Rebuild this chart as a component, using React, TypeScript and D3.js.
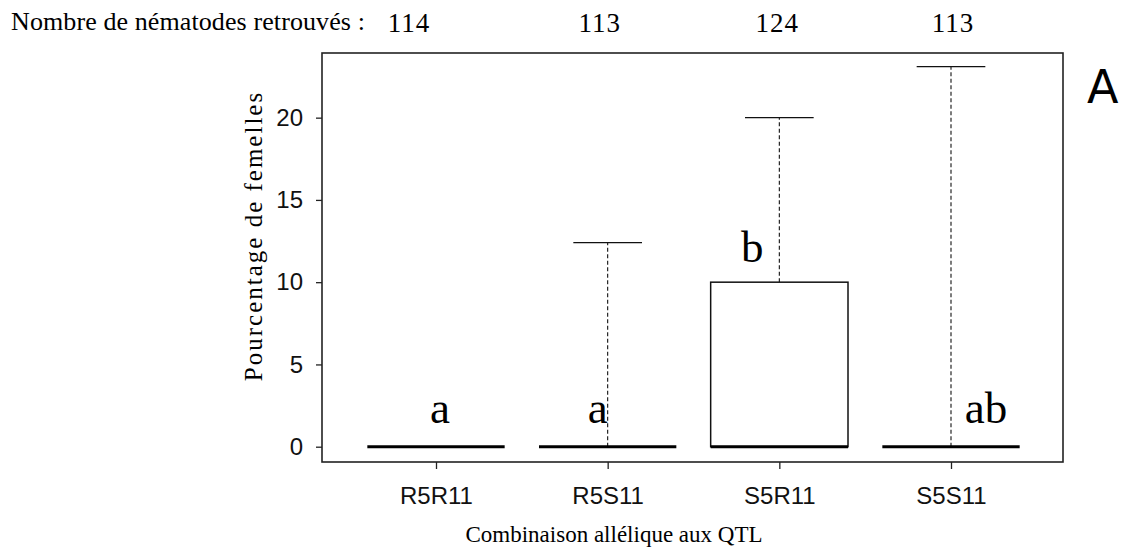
import * as d3 from "d3";
import { useEffect, useRef } from "react";

// allele combinations at the two QTL
const categories = ["R5R11", "R5S11", "S5R11", "S5S11"];
// box stats (% females)
const q1 = [0, 0, 0, 0];
const medians = [0, 0, 0, 0];
const q3 = [0, 0, 10, 0];
const whiskerMax = [0, 12.4, 20, 23.1];
// nematodes recovered per group
const counts = [114, 113, 124, 113];
// significance letters
const letters = ["a", "a", "b", "ab"];
const yTicks = [0, 5, 10, 15, 20];

const W = 1128;
const H = 557;
const frame = { left: 322, top: 53, right: 1063, bottom: 462 };

// hand placement of annotation texts (px offset from group centre, value for letters)
const countOffsets = [-27, -8, -2, 2];
const letterOffsets = [4, -10, -27, 35];
const letterLevels = [1.45, 1.45, 11.2, 1.45];

const serif = "'Liberation Serif', 'Times New Roman', serif";
const sans = "'Liberation Sans', Arial, sans-serif";

const App = () => {
  const ref = useRef<SVGSVGElement>(null);

  useEffect(() => {
    const svg = d3.select(ref.current);
    svg.selectAll("*").remove();
    svg.attr("width", W).attr("height", H);

    const x = d3.scalePoint<string>().domain(categories).range([436, 951]);
    const y = d3.scaleLinear().domain([-0.93, 23.93]).range([frame.bottom, frame.top]);
    const boxW = x.step() * 0.8;
    const capW = boxW / 2;

    // frame
    svg
      .append("rect")
      .attr("x", frame.left)
      .attr("y", frame.top)
      .attr("width", frame.right - frame.left)
      .attr("height", frame.bottom - frame.top)
      .attr("fill", "none")
      .attr("stroke", "#222")
      .attr("stroke-width", 1.6);

    // y axis
    const yAxis = svg
      .append("g")
      .attr("transform", `translate(${frame.left},0)`)
      .call(d3.axisLeft(y).tickValues(yTicks).tickSize(6).tickPadding(13));
    yAxis.select(".domain").remove();
    yAxis.selectAll("line").attr("stroke", "#222").attr("stroke-width", 1.3);
    yAxis
      .selectAll("text")
      .attr("font-family", sans)
      .attr("font-size", 24)
      .attr("fill", "#111");

    // x axis
    const xAxis = svg
      .append("g")
      .attr("transform", `translate(0,${frame.bottom})`)
      .call(d3.axisBottom(x).tickSize(7).tickPadding(18));
    xAxis.select(".domain").remove();
    xAxis.selectAll("line").attr("stroke", "#222").attr("stroke-width", 1.3);
    xAxis
      .selectAll("text")
      .attr("font-family", sans)
      .attr("font-size", 24)
      .attr("fill", "#111");

    const groups = categories.map((c, i) => ({
      c,
      q1: q1[i],
      med: medians[i],
      q3: q3[i],
      hi: whiskerMax[i],
    }));

    const g = svg.append("g");

    // whiskers
    groups
      .filter((d) => d.hi > d.q3)
      .forEach((d) => {
        const cx = x(d.c)!;
        g.append("line")
          .attr("x1", cx)
          .attr("x2", cx)
          .attr("y1", y(d.q3))
          .attr("y2", y(d.hi))
          .attr("stroke", "#111")
          .attr("stroke-width", 1.1)
          .attr("stroke-dasharray", "4,2.5");
        g.append("line")
          .attr("x1", cx - capW / 2)
          .attr("x2", cx + capW / 2)
          .attr("y1", y(d.hi))
          .attr("y2", y(d.hi))
          .attr("stroke", "#111")
          .attr("stroke-width", 1.3);
      });

    // boxes
    groups
      .filter((d) => d.q3 > d.q1)
      .forEach((d) => {
        g.append("rect")
          .attr("x", x(d.c)! - boxW / 2)
          .attr("y", y(d.q3))
          .attr("width", boxW)
          .attr("height", y(d.q1) - y(d.q3))
          .attr("fill", "#fff")
          .attr("stroke", "#111")
          .attr("stroke-width", 1.5);
      });

    // medians
    groups.forEach((d) => {
      g.append("line")
        .attr("x1", x(d.c)! - boxW / 2)
        .attr("x2", x(d.c)! + boxW / 2)
        .attr("y1", y(d.med))
        .attr("y2", y(d.med))
        .attr("stroke", "#000")
        .attr("stroke-width", 3);
    });

    // significance letters
    svg
      .append("g")
      .selectAll("text")
      .data(letters)
      .enter()
      .append("text")
      .attr("x", (d, i) => x(categories[i])! + letterOffsets[i])
      .attr("y", (d, i) => y(letterLevels[i]))
      .attr("text-anchor", "middle")
      .attr("font-family", serif)
      .attr("font-size", 45)
      .attr("fill", "#000")
      .text((d) => d);

    // counts row
    svg
      .append("text")
      .attr("x", 11)
      .attr("y", 30)
      .attr("font-family", serif)
      .attr("font-size", 26)
      .attr("letter-spacing", 0.1)
      .attr("fill", "#000")
      .text("Nombre de nématodes retrouvés :");

    svg
      .append("g")
      .selectAll("text")
      .data(counts)
      .enter()
      .append("text")
      .attr("x", (d, i) => x(categories[i])! + countOffsets[i])
      .attr("y", 31.5)
      .attr("text-anchor", "middle")
      .attr("font-family", serif)
      .attr("font-size", 27)
      .attr("letter-spacing", 1)
      .attr("fill", "#000")
      .text((d) => d);

    // axis titles
    svg
      .append("text")
      .attr("transform", "translate(262,236) rotate(-90)")
      .attr("text-anchor", "middle")
      .attr("font-family", serif)
      .attr("font-size", 25)
      .attr("letter-spacing", 2)
      .attr("fill", "#000")
      .text("Pourcentage de femelles");

    svg
      .append("text")
      .attr("x", 614)
      .attr("y", 542)
      .attr("text-anchor", "middle")
      .attr("font-family", serif)
      .attr("font-size", 23)
      .attr("fill", "#000")
      .text("Combinaison allélique aux QTL");

    // panel tag
    svg
      .append("text")
      .attr("x", 1087)
      .attr("y", 103)
      .attr("font-family", "'DejaVu Sans', sans-serif")
      .attr("font-size", 46)
      .attr("fill", "#000")
      .text("A");
  }, []);

  return (
    <svg
      ref={ref}
      style={{ position: "absolute", left: 0, top: 0, background: "#fff" }}
    ></svg>
  );
};

export default App;
